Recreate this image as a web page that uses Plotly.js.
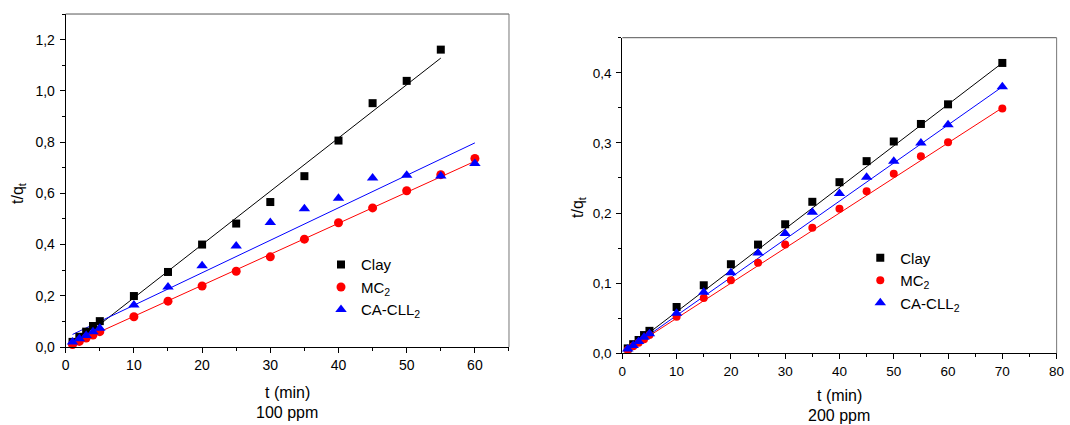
<!DOCTYPE html>
<html>
<head>
<meta charset="utf-8">
<script src="https://cdn.plot.ly/plotly-3.0.1.min.js"></script>
<style>html,body{margin:0;padding:0;background:#fff;}#chart{width:1070px;height:425px;}</style>
</head>
<body>
<div id="chart"></div>
<script>
// ---------- 100 ppm (left panel) ----------
const t100 = [1, 2, 3, 4, 5, 10, 15, 20, 25, 30, 35, 40, 45, 50, 55, 60];
const clay100 = [0.020, 0.040, 0.060, 0.082, 0.101, 0.199, 0.293, 0.400, 0.482, 0.566, 0.667, 0.806, 0.952, 1.039, 1.161, null];
const mc100 = [0.010, 0.022, 0.035, 0.047, 0.060, 0.118, 0.179, 0.238, 0.296, 0.352, 0.421, 0.485, 0.543, 0.610, 0.673, 0.736];
const ca100 = [0.020, 0.032, 0.045, 0.060, 0.073, 0.164, 0.234, 0.317, 0.394, 0.486, 0.540, 0.581, 0.660, 0.671, 0.668, 0.716];
// fitted lines (end points)
const clayFitT100 = [1, 55];
const clayFitY100 = [0.005, 1.128];
const mcFitT100 = [1, 60];
const mcFitY100 = [0.011, 0.725];
const caFitT100 = [1, 60];
const caFitY100 = [0.049, 0.797];

// ---------- 200 ppm (right panel) ----------
const t200 = [1, 2, 3, 4, 5, 10, 15, 20, 25, 30, 35, 40, 45, 50, 55, 60, 70];
const clay200 = [0.007, 0.013, 0.019, 0.026, 0.032, 0.066, 0.097, 0.127, 0.155, 0.184, 0.216, 0.244, 0.274, 0.302, 0.327, 0.355, 0.414];
const mc200 = [0.005, 0.010, 0.015, 0.020, 0.026, 0.052, 0.079, 0.104, 0.129, 0.155, 0.179, 0.206, 0.231, 0.256, 0.281, 0.301, 0.349];
const ca200 = [0.006, 0.011, 0.017, 0.023, 0.028, 0.057, 0.087, 0.115, 0.143, 0.171, 0.201, 0.228, 0.251, 0.274, 0.300, 0.326, 0.380];
const clayFitT200 = [1, 70];
const clayFitY200 = [0.006, 0.414];
const mcFitT200 = [1, 70];
const mcFitY200 = [0.005, 0.350];
const caFitT200 = [1, 70];
const caFitY200 = [0.005, 0.380];

const names = ['Clay', 'MC<sub>2</sub>', 'CA-CLL<sub>2</sub>'];
const colors = ['#000000', '#ff0000', '#0000ff'];
const symbols = ['square', 'circle', 'triangle-up'];

const FONT = 'Arial, "Liberation Sans", sans-serif';

function pts(x, y, i, xa, ya, leg, size) {
  return {x: x, y: y, xaxis: xa, yaxis: ya, type: 'scatter', mode: 'markers', name: names[i],
    legend: leg, marker: {symbol: symbols[i], color: colors[i], size: size[i], line: {width: 0}},
    cliponaxis: false};
}
function fit(x, y, i, xa, ya) {
  return {x: x, y: y, xaxis: xa, yaxis: ya, type: 'scatter', mode: 'lines', showlegend: false,
    line: {color: colors[i], width: 1}, hoverinfo: 'skip'};
}

const sL = [8, 9, 10];
const sR = [8, 8, 10];
const data = [
  fit(clayFitT100, clayFitY100, 0, 'x', 'y'),
  fit(mcFitT100, mcFitY100, 1, 'x', 'y'),
  fit(caFitT100, caFitY100, 2, 'x', 'y'),
  pts(t100, clay100, 0, 'x', 'y', 'legend', sL),
  pts(t100, mc100, 1, 'x', 'y', 'legend', sL),
  pts(t100, ca100, 2, 'x', 'y', 'legend', sL),
  fit(clayFitT200, clayFitY200, 0, 'x2', 'y2'),
  fit(mcFitT200, mcFitY200, 1, 'x2', 'y2'),
  fit(caFitT200, caFitY200, 2, 'x2', 'y2'),
  pts(t200, clay200, 0, 'x2', 'y2', 'legend2', sR),
  pts(t200, mc200, 1, 'x2', 'y2', 'legend2', sR),
  pts(t200, ca200, 2, 'x2', 'y2', 'legend2', sR)
];

function axis(domain, range, dtick, minorD, anchor, fs, standoff) {
  const a = {domain: domain, range: range, anchor: anchor, dtick: dtick, tick0: 0,
    showgrid: false, zeroline: false, showline: true, linecolor: '#000', linewidth: 1,
    ticks: 'outside', ticklen: 5, tickwidth: 1, tickcolor: '#000',
    minor: {dtick: minorD, ticks: 'outside', ticklen: 3, tickwidth: 1, tickcolor: '#000', showgrid: false},
    tickfont: {family: FONT, size: fs, color: '#000'}, fixedrange: true};
  if (standoff) a.ticklabelstandoff = standoff;
  return a;
}

const xa1 = axis([0.0614, 0.4757], [0, 65], 10, 5, 'y', 14, 0);
const ya1 = axis([0.1835, 0.967], [0, 1.3], 0.2, 0.1, 'x', 14, 2);
ya1.tickformat = '.1f';
const xa2 = axis([0.5816, 0.9875], [0, 80], 10, 5, 'y2', 13.5, 0);
const ya2 = axis([0.1687, 0.9113], [0, 0.45], 0.1, 0.05, 'x2', 13.5, 2);
ya2.tickformat = '.1f';

function frame(xr, yr) {
  return [
    {type: 'line', xref: xr + ' domain', yref: yr + ' domain', x0: 0, x1: 1, y0: 1, y1: 1, line: {color: '#555', width: 1}},
    {type: 'line', xref: xr + ' domain', yref: yr + ' domain', x0: 1, x1: 1, y0: 0, y1: 1, line: {color: '#777', width: 1}}
  ];
}

function ann(text, x, y, angle) {
  return {text: text, x: x, y: y, xref: 'paper', yref: 'paper', showarrow: false,
    xanchor: 'center', yanchor: 'middle', textangle: angle || 0,
    font: {family: FONT, size: 16, color: '#000'}};
}

const legStyle = (x, y) => ({x: x, y: y, xanchor: 'left', yanchor: 'top', bgcolor: 'rgba(0,0,0,0)',
  font: {family: FONT, size: 15, color: '#000'}, tracegroupgap: 0, itemwidth: 30});

const layout = {
  width: 1070, height: 425,
  margin: {l: 0, r: 0, t: 0, b: 0},
  paper_bgcolor: '#fff', plot_bgcolor: '#fff',
  separators: ',.',
  showlegend: true,
  xaxis: xa1, yaxis: ya1, xaxis2: xa2, yaxis2: ya2,
  legend: legStyle(0.300, 0.416),
  legend2: legStyle(0.804, 0.432),
  shapes: frame('x', 'y').concat(frame('x2', 'y2')),
  annotations: [
    ann('t (min)', 287 / 1070, 1 - 392 / 425),
    ann('100 ppm', 287 / 1070, 1 - 412 / 425),
    ann('t/q<sub>t</sub>', 18 / 1070, 1 - 193 / 425, -90),
    ann('t (min)', 839 / 1070, 1 - 395 / 425),
    ann('200 ppm', 839 / 1070, 1 - 415 / 425),
    ann('t/q<sub>t</sub>', 578 / 1070, 1 - 207 / 425, -90)
  ]
};

Plotly.newPlot('chart', data, layout, {staticPlot: true, displayModeBar: false});
</script>
</body>
</html>
